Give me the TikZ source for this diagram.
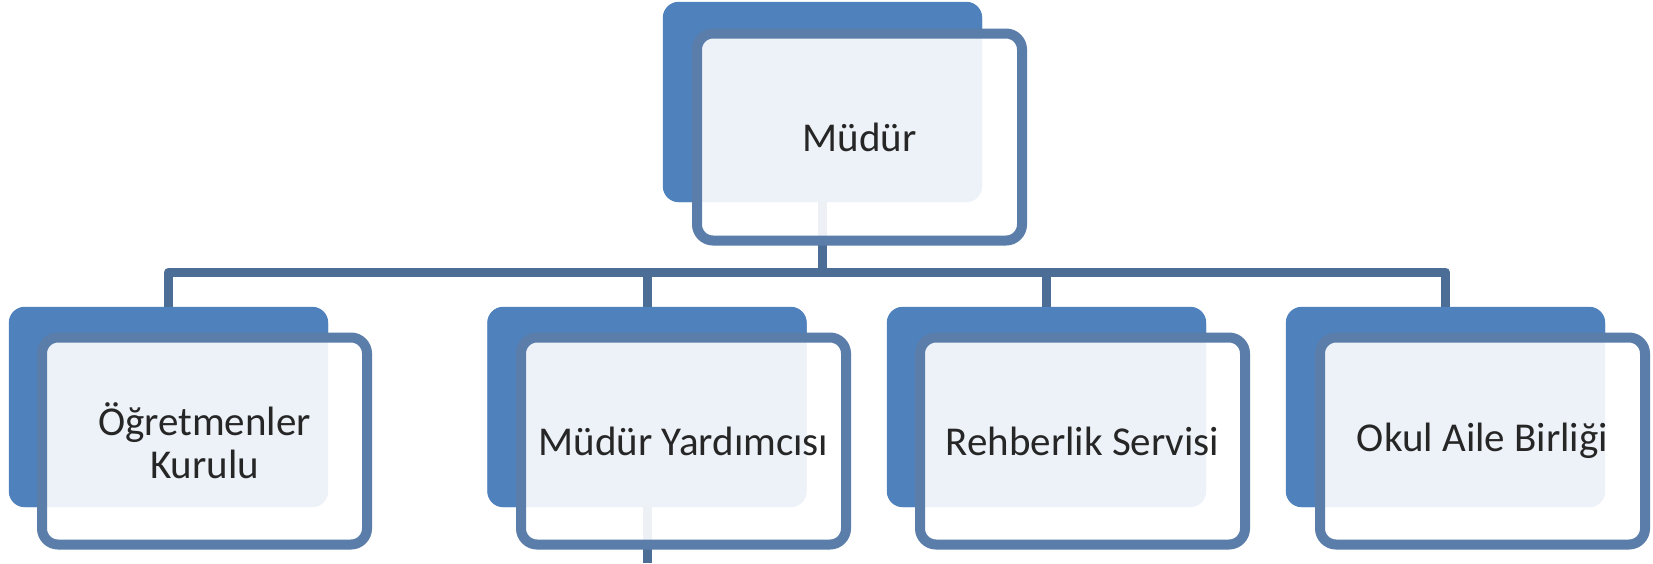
\documentclass[tikz,border=0pt]{standalone}
\usepackage{fontspec}
\setmainfont{Carlito}
\definecolor{backblue}{HTML}{4F81BD}
\definecolor{frameblue}{HTML}{5A7DA9}
\definecolor{busblue}{HTML}{4C6D96}
\definecolor{txt}{HTML}{262626}
\tikzset{
  backbox/.style={draw=none, fill=backblue, rounded corners=16pt, minimum width=319pt, minimum height=200pt, inner sep=0pt},
  frontbox/.style={draw=frameblue, line width=10pt, fill=white, fill opacity=0.9, text opacity=1, rounded corners=16pt, minimum width=325pt, minimum height=207pt, inner sep=0pt, text=txt, align=center, font=\fontsize{41}{43}\selectfont},
  conn/.style={draw=busblue, line width=9pt, line join=round}
}
\begin{document}
\begin{tikzpicture}[x=1pt,y=-1pt]
\useasboundingbox (0,0) rectangle (1653,563);
\fill[white] (0,0) rectangle (1653,563);
% back rectangles
\node[backbox] (t)  at (822.5,102) {};
\node[backbox] (b1) at (168.5,407) {};
\node[backbox] (b2) at (647,407) {};
\node[backbox] (b3) at (1046.5,407) {};
\node[backbox] (b4) at (1445.5,407) {};
% connectors
\coordinate (bus) at (0,272);
\coordinate (down) at (647,563);
\draw[conn] (b1.north) -- (b1.north |- bus) -- (b4.north |- bus) -- (b4.north);
\draw[conn] (b2.north) -- (b2.north |- bus);
\draw[conn] (b3.north) -- (b3.north |- bus);
\draw[conn] (t.south) -- (t.south |- bus);
\draw[conn] (b2.south) -- (down);
% redraw back rectangles on top of connector ends
\fill[backblue, rounded corners=16pt] (t.south west) rectangle (t.north east);
\foreach \n in {b1,b2,b3,b4}{\fill[backblue, rounded corners=16pt] (\n.south west) rectangle (\n.north east);}
% front boxes
\node[frontbox] (ft)  at (859.5,137) {Müdür};
\node[frontbox] (f1)  at (204.5,441) {Öğretmenler\\Kurulu};
\node[frontbox] (f2)  at (683.5,441) {Müdür Yardımcısı};
\node[frontbox] (f3)  at (1082.5,441) {Rehberlik Servisi};
\node[frontbox] (f4)  at (1482.5,441) {Okul Aile Birliği};
\end{tikzpicture}
\end{document}
